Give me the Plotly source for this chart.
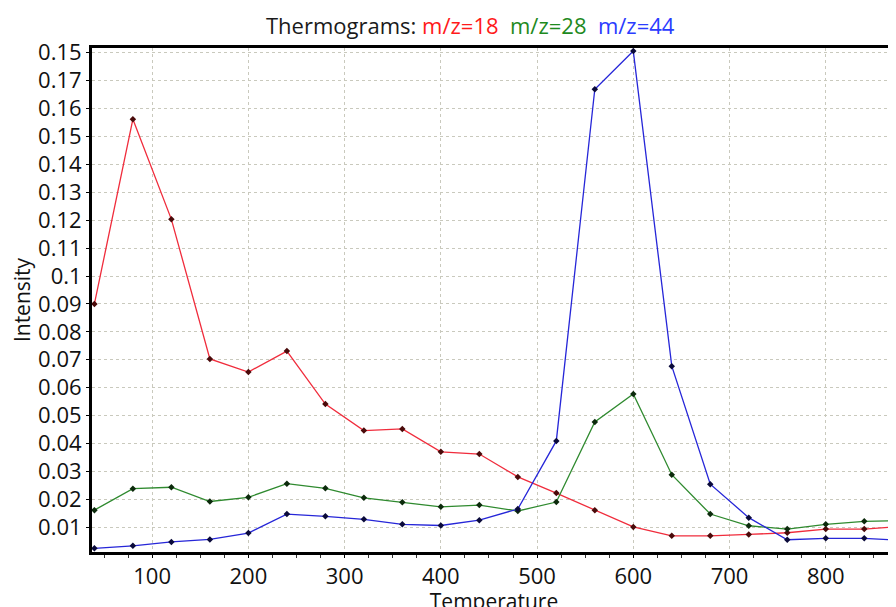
import plotly.graph_objects as go

# temperature steps
temps = [40, 80, 120, 160, 200, 240, 280, 320, 360, 400, 440, 480,
         520, 560, 600, 640, 680, 720, 760, 800, 840, 880]

# intensity per mass channel
mz18 = [0.0900, 0.1562, 0.1203, 0.0703, 0.0656, 0.0731, 0.0541, 0.0446, 0.0452, 0.0370, 0.0362, 0.0280,
        0.0222, 0.0161, 0.0101, 0.0069, 0.0069, 0.0074, 0.0080, 0.0093, 0.0093, 0.0103]
mz28 = [0.0161, 0.0238, 0.0243, 0.0192, 0.0207, 0.0256, 0.0239, 0.0205, 0.0189, 0.0173, 0.0179, 0.0158,
        0.0190, 0.0477, 0.0577, 0.0288, 0.0147, 0.0105, 0.0093, 0.0110, 0.0121, 0.0123]
mz44 = [0.0024, 0.0033, 0.0047, 0.0056, 0.0079, 0.0147, 0.0139, 0.0128, 0.0110, 0.0106, 0.0125, 0.0165,
        0.0409, 0.1669, 0.1806, 0.0677, 0.0254, 0.0134, 0.0055, 0.0060, 0.0060, 0.0053]

# y tick labels as printed on the original chart
y_tickvals = [0.01, 0.02, 0.03, 0.04, 0.05, 0.06, 0.07, 0.08, 0.09, 0.10,
              0.11, 0.12, 0.13, 0.14, 0.15, 0.16, 0.17, 0.18]
y_ticktext = ["0.01", "0.02", "0.03", "0.04", "0.05", "0.06", "0.07", "0.08", "0.09", "0.1",
              "0.11", "0.12", "0.13", "0.14", "0.15", "0.16", "0.17", "0.15"]
x_tickvals = [100, 200, 300, 400, 500, 600, 700, 800]

FONT = "Open Sans, Noto Sans, sans-serif"
GRID = "#c9c9bd"

series = [
    ("m/z=18", mz18, "#f02c3c", "#4a0a0a"),
    ("m/z=28", mz28, "#2f8a2f", "#0c2a0c"),
    ("m/z=44", mz44, "#2626d8", "#0a0a3a"),
]

fig = go.Figure()
for name, vals, lc, mc in series:
    fig.add_trace(go.Scatter(x=temps, y=vals, mode="lines+markers", name=name,
                             line=dict(color=lc, width=1.3),
                             marker=dict(color=mc, size=5, symbol="diamond")))

fig.add_annotation(xref="paper", yref="paper", x=0.471, y=1.0, yshift=6,
                   xanchor="center", yanchor="bottom", showarrow=False,
                   text="Thermograms: <span style='color:#ff1a1a'>m/z=18</span>  "
                        "<span style='color:#1e8a1e'>m/z=28</span>  "
                        "<span style='color:#2a3cff'>m/z=44</span>",
                   font=dict(family=FONT, size=22, color="#1a1a1a"))

# page has an 8px body margin; the plot runs off the right and bottom edges like the original
fig.update_layout(
    width=888, height=607,
    margin=dict(l=84, r=0, t=40, b=63),
    paper_bgcolor="white", plot_bgcolor="white",
    showlegend=False,
    font=dict(family=FONT, color="#111111"),
    xaxis=dict(range=[37.5, 873], tickvals=x_tickvals,
               showgrid=True, gridcolor=GRID, griddash="dot", gridwidth=1,
               showline=True, linecolor="black", linewidth=3, mirror=True,
               ticks="outside", ticklen=3, tickcolor="black",
               minor=dict(dtick=25, tick0=0, ticks="outside", ticklen=3, tickcolor="#333333", showgrid=False),
               tickfont=dict(size=22), zeroline=False,
               title=dict(text="Temperature", font=dict(size=21), standoff=2)),
    yaxis=dict(range=[0.0011, 0.1817], tickvals=y_tickvals, ticktext=y_ticktext,
               showgrid=True, gridcolor=GRID, griddash="dot", gridwidth=1,
               showline=True, linecolor="black", linewidth=3,
               ticks="outside", ticklen=3, tickcolor="black",
               tickfont=dict(size=22), zeroline=False,
               title=dict(text="Intensity", font=dict(size=21), standoff=8)),
)

fig.write_html("out.html")
